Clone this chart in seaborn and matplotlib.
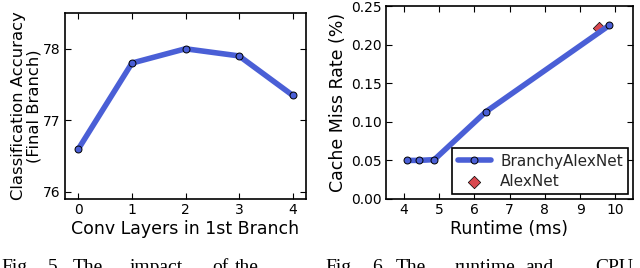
import matplotlib
matplotlib.use("Agg")
import matplotlib.pyplot as plt
import seaborn as sns
import pandas as pd

# Left panel data
conv_layers = [0, 1, 2, 3, 4]
accuracy = [76.6, 77.8, 78.0, 77.9, 77.35]

# Right panel data
branchy_runtime = [4.1, 4.43, 4.87, 6.33, 9.83]
branchy_miss = [0.050, 0.050, 0.051, 0.113, 0.225]
alexnet_runtime = [9.55]
alexnet_miss = [0.222]

# Cut-off captions below the panels
caption_left = ["Fig.", "5.", "The", "impact", "of", "the"]
caption_right = ["Fig.", "6.", "The", "runtime", "and", "CPU"]

sns.set_theme(style="white")
plt.rcParams['font.family'] = ['DejaVu Sans']

LINE = "#4a5fd6"
RED = "#d9484f"

fig = plt.figure(figsize=(6.4, 2.68), dpi=100)
ax1 = fig.add_axes([65/640, 1-199/268, (306-65)/640, (199-13)/268])
ax2 = fig.add_axes([386/640, 1-199/268, (633-386)/640, (199-6)/268])

df1 = pd.DataFrame({"x": conv_layers, "y": accuracy})
sns.lineplot(data=df1, x="x", y="y", ax=ax1, color=LINE, lw=4, marker="o",
             markersize=5, markerfacecolor=LINE, markeredgecolor="black",
             markeredgewidth=0.7, zorder=3)
ax1.set_xlim(-0.25, 4.25)
ax1.set_ylim(75.9, 78.5)
ax1.set_xticks([0, 1, 2, 3, 4])
ax1.set_yticks([76, 77, 78])
ax1.set_xlabel("Conv Layers in 1st Branch", fontsize=12.5, labelpad=2)
ax1.set_ylabel("Classification Accuracy\n(Final Branch)", fontsize=11.8,
               labelpad=1, linespacing=1.05)

df2 = pd.DataFrame({"x": branchy_runtime, "y": branchy_miss})
df3 = pd.DataFrame({"x": alexnet_runtime, "y": alexnet_miss})
sns.scatterplot(data=df3, x="x", y="y", ax=ax2, marker="D", s=40, color=RED,
                edgecolor="black", linewidth=0.5, zorder=2, label="AlexNet")
sns.lineplot(data=df2, x="x", y="y", ax=ax2, color=LINE, lw=4, marker="o",
             markersize=5, markerfacecolor=LINE, markeredgecolor="black",
             markeredgewidth=0.7, zorder=3, label="BranchyAlexNet")
ax2.set_xlim(3.5, 10.5)
ax2.set_ylim(0, 0.25)
ax2.set_xticks([4, 5, 6, 7, 8, 9, 10])
ax2.set_yticks([0, 0.05, 0.10, 0.15, 0.20, 0.25])
ax2.set_yticklabels(["0.00", "0.05", "0.10", "0.15", "0.20", "0.25"])
ax2.set_xlabel("Runtime (ms)", fontsize=12.5, labelpad=2)
ax2.set_ylabel("Cache Miss Rate (%)", fontsize=12.5, labelpad=3)

h, l = ax2.get_legend_handles_labels()
order = [l.index("BranchyAlexNet"), l.index("AlexNet")]
leg = ax2.legend([h[i] for i in order], [l[i] for i in order], loc="lower right",
                 fontsize=11, frameon=True, fancybox=False, framealpha=1,
                 edgecolor="black", borderaxespad=0.3, handlelength=2.2,
                 handletextpad=0.6, borderpad=0.35, labelspacing=0.35,
                 numpoints=1, scatterpoints=1)
leg.get_frame().set_linewidth(1.2)

for ax in (ax1, ax2):
    for s in ax.spines.values():
        s.set_color("black")
        s.set_linewidth(1.2)
    ax.tick_params(direction="in", length=4, width=0.8, top=True, right=True,
                   bottom=True, left=True, labelsize=10, colors="black", pad=3)
    ax.xaxis.label.set_color("black")
    ax.yaxis.label.set_color("black")

left_x = [1, 48, 73, 130, 212, 235]
right_x = [325, 372, 396, 455, 525, 595]
base_y = 1 - 272/268
for words, xs in ((caption_left, left_x), (caption_right, right_x)):
    for w, xp in zip(words, xs):
        fig.text(xp/640, base_y, w, fontsize=14, family=["Liberation Serif"],
                 va="baseline", ha="left", color="black")

fig.savefig("out.png", dpi=100)
